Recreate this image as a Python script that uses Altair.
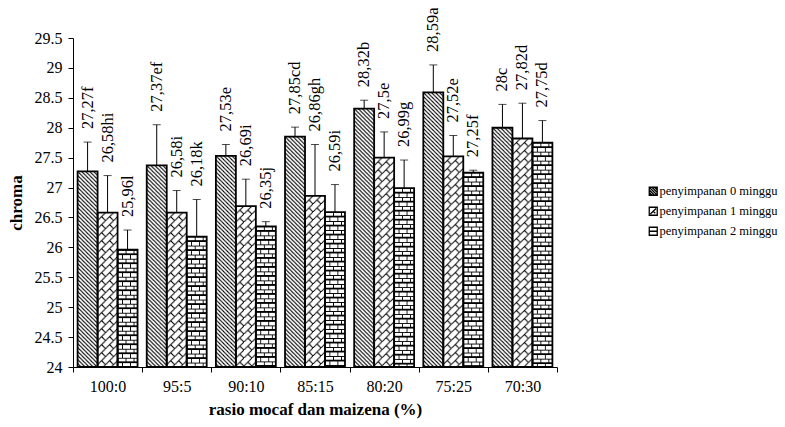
import base64
import altair as alt
import pandas as pd

categories = ["100:0", "95:5", "90:10", "85:15", "80:20", "75:25", "70:30"]
series_names = ["penyimpanan 0 minggu", "penyimpanan 1 minggu", "penyimpanan 2 minggu"]

chroma_0 = [27.27, 27.37, 27.53, 27.85, 28.32, 28.59, 28.00]
chroma_1 = [26.58, 26.58, 26.69, 26.86, 27.50, 27.52, 27.82]
chroma_2 = [25.96, 26.18, 26.35, 26.59, 26.99, 27.25, 27.75]

error_0 = [0.49, 0.68, 0.19, 0.16, 0.14, 0.46, 0.39]
error_1 = [0.62, 0.37, 0.45, 0.86, 0.43, 0.35, 0.59]
error_2 = [0.33, 0.62, 0.08, 0.46, 0.47, 0.04, 0.37]

labels_0 = ["27,27f", "27,37ef", "27,53e", "27,85cd", "28,32b", "28,59a", "28c"]
labels_1 = ["26,58hi", "26,58i", "26,69i", "26,86gh", "27,5e", "27,52e", "27,82d"]
labels_2 = ["25,96l", "26,18k", "26,35j", "26,59i", "26,99g", "27,25f", "27,75d"]

y_ticks = [24, 24.5, 25, 25.5, 26, 26.5, 27, 27.5, 28, 28.5, 29, 29.5]

rows = []
for s, vals, errs, labs in zip(series_names,
                               [chroma_0, chroma_1, chroma_2],
                               [error_0, error_1, error_2],
                               [labels_0, labels_1, labels_2]):
    for c, v, e, l in zip(categories, vals, errs, labs):
        rows.append({"cat": c, "series": s, "value": v, "hi": v + e, "label": l})
df = pd.DataFrame(rows)

FONT = "Liberation Serif"


def pattern_url(pattern_inner):
    svg = ('<svg xmlns="http://www.w3.org/2000/svg" width="100%" height="100%">'
           '<defs>' + pattern_inner + '</defs>'
           '<rect width="100%" height="100%" fill="white"/>'
           '<rect width="100%" height="100%" fill="url(#p)"/></svg>')
    return "data:image/svg+xml;base64," + base64.b64encode(svg.encode()).decode()


patterns = [
    pattern_url('<pattern id="p" width="4" height="4" patternUnits="userSpaceOnUse">'
                '<path d="M-1,-1L5,5M-1,3L1,5M3,-1L5,1" stroke="black" stroke-width="1" fill="none"/></pattern>'),
    pattern_url('<pattern id="p" width="8" height="8" patternUnits="userSpaceOnUse">'
                '<path d="M-1,9L9,-1M4,4L9,9M-1,-1L0,0" stroke="black" stroke-width="1" fill="none"/></pattern>'),
    pattern_url('<pattern id="p" width="8" height="9" patternUnits="userSpaceOnUse">'
                '<path d="M0,0.5H8M0,4.5H8M0.5,0.5V4.5M4.5,4.5V9" stroke="black" stroke-width="1" fill="none" shape-rendering="crispEdges"/></pattern>'),
]

legend_shapes = [
    "M-1,-1H1V1H-1Z M-1,-0.33L0.33,1 M-1,0.33L-0.33,1 M-0.33,-1L1,0.33 M0.33,-1L1,-0.33 M-1,-1L1,1",
    "M-1,-1H1V1H-1Z M-0.7,0.7L0.7,-0.7 M0,0L0.5,0.5",
    "M-1,-1H1V1H-1Z M-1,0H1",
]

x_enc = alt.X(
    "cat:N", sort=categories,
    scale=alt.Scale(domain=categories, paddingInner=0, paddingOuter=0),
    axis=alt.Axis(title="rasio mocaf dan maizena (%)", labelAngle=0, tickBand="extent",
                  labelFont=FONT, labelFontSize=16, labelColor="black", labelPadding=6,
                  titleFont=FONT, titleFontSize=17, titleFontWeight="bold", titleColor="black",
                  titlePadding=7, domainColor="black", tickColor="black", tickSize=5),
)
xo_enc = alt.XOffset("series:N", scale=alt.Scale(domain=series_names, paddingInner=0, paddingOuter=0.23))
y_scale = alt.Scale(domain=[24, 29.5], nice=False, zero=False)
y_axis = alt.Axis(title="chroma", values=y_ticks, format="~g", grid=False,
                  labelFont=FONT, labelFontSize=16, labelColor="black", labelPadding=6,
                  titleFont=FONT, titleFontSize=17, titleFontWeight="bold", titleColor="black",
                  titlePadding=9, domainColor="black", tickColor="black", tickSize=5)
y_enc = alt.Y("value:Q", scale=y_scale, axis=y_axis)

base = alt.Chart(df)

legend_pts = base.mark_point(fill="white", stroke="black", strokeWidth=1, size=30, opacity=1).encode(
    x=x_enc, xOffset=xo_enc,
    y=alt.Y(datum=24.3, type="quantitative", scale=y_scale, axis=y_axis),
    shape=alt.Shape("series:N", scale=alt.Scale(domain=series_names, range=legend_shapes),
                    legend=alt.Legend(title=None, orient="none", legendX=566, legendY=147,
                                      symbolSize=64, symbolStrokeWidth=1.3, symbolOffset=8,
                                      padding=0,
                                      labelFont=FONT, labelFontSize=12.5, labelColor="black",
                                      labelOffset=0, rowPadding=6, labelLimit=0)),
)

image_layers = []
for s, url in zip(series_names, patterns):
    image_layers.append(
        base.transform_filter(alt.datum.series == s).mark_image(url=url, aspect=False).encode(
            x=x_enc, xOffset=xo_enc, y=y_enc, y2=alt.datum(24),
        )
    )

outline = base.mark_bar(fillOpacity=0, stroke="black", strokeWidth=1.8).encode(
    x=x_enc, xOffset=xo_enc, y=y_enc, y2=alt.datum(24),
)

err_rule = base.mark_rule(color="black", strokeWidth=1).encode(
    x=x_enc, xOffset=xo_enc, y=y_enc, y2="hi:Q",
)

err_cap = base.mark_tick(color="black", thickness=1, size=8).encode(
    x=x_enc, xOffset=xo_enc, y=alt.Y("hi:Q", scale=y_scale, axis=y_axis),
)

labels = base.mark_text(angle=270, align="left", baseline="middle", dx=13,
                        font=FONT, fontSize=16.5, color="black").encode(
    x=x_enc, xOffset=xo_enc, y=alt.Y("hi:Q", scale=y_scale, axis=y_axis), text="label:N",
)

chart = alt.layer(legend_pts, *image_layers, outline, err_rule, err_cap, labels).properties(
    width=484, height=329,
    autosize=alt.AutoSizeParams(type="none"),
    padding={"left": 65, "top": 30, "right": 220, "bottom": 52},
    background="white",
).configure_view(stroke=None)

chart.save("out.html", embed_options={"renderer": "svg", "actions": False})
